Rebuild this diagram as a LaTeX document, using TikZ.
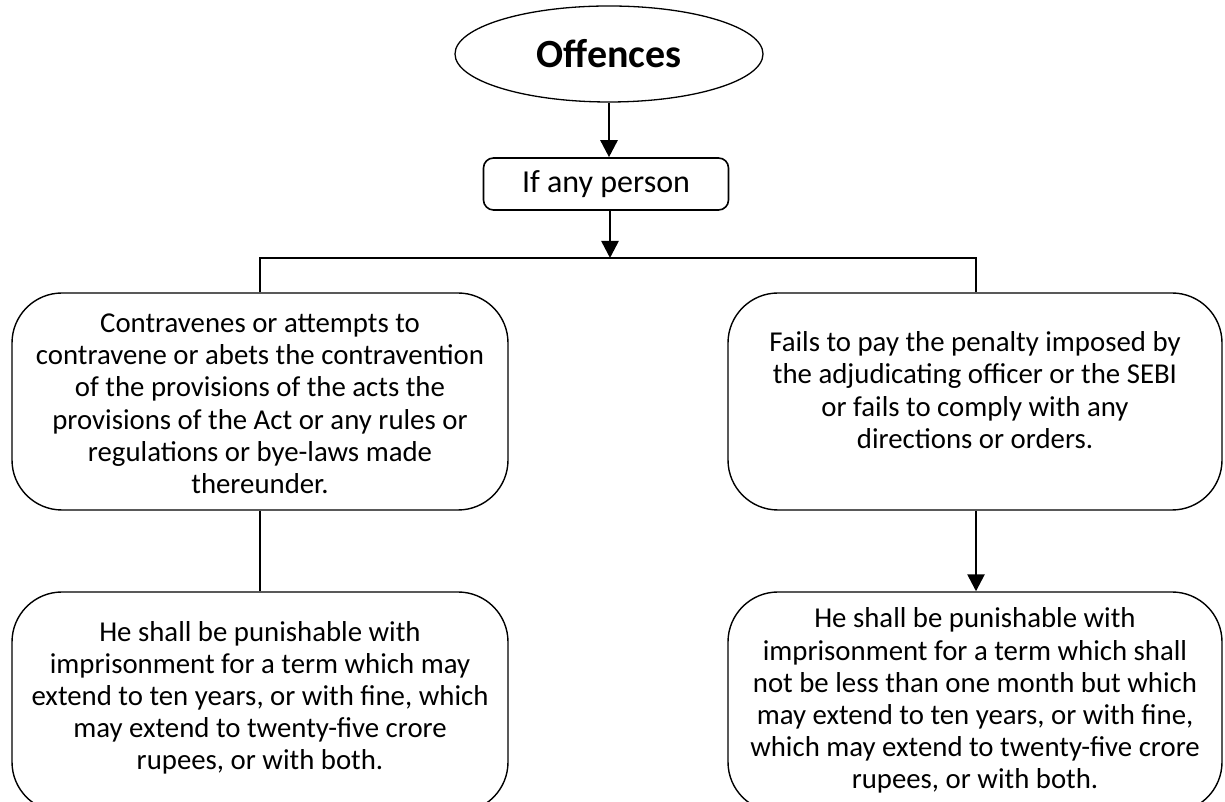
\documentclass[tikz,border=0pt]{standalone}
\usepackage{fontspec}
\setmainfont{Carlito}
\usetikzlibrary{shapes.geometric,arrows.meta}

\tikzset{
  conn/.style={line width=2.6pt},
  tip/.style={-{Triangle[width=17pt,length=17pt]}},
  bigbox/.style={draw, line width=1.4pt, rounded corners=50pt,
    minimum width=496pt, minimum height=217pt, inner sep=0pt,
    align=center, font=\fontsize{28.8}{32.2}\selectfont},
  lowbox/.style={bigbox, minimum height=220pt}
}

\begin{document}
\begin{tikzpicture}[x=1pt,y=1pt]
\useasboundingbox (0,0) rectangle (1225,802);
\clip (0,0) rectangle (1225,802);

% heading and first question
\node[ellipse, draw, line width=1.3pt, minimum width=308pt, minimum height=96pt,
      inner sep=0pt, font=\bfseries\fontsize{40}{44}\selectfont] (off) at (609,748) {Offences};
\node[draw, line width=1.6pt, rounded corners=10pt, minimum width=245pt,
      minimum height=52pt, inner sep=0pt, font=\fontsize{32}{36}\selectfont]
      (ifp) at (606,618) {If any person};

% branching points
\coordinate (j)  at (610,544);
\coordinate (jl) at (260,544);
\coordinate (jr) at (976,544);

% the two kinds of offence
\node[bigbox] (lt) at (260,400.5)
  {\raisebox{-5pt}[\height][\depth]{\begin{tabular}{@{}c@{}}
   Contravenes or attempts to\\
   contravene or abets the contravention\\
   of the provisions of the acts the\\
   provisions of the Act or any rules or\\
   regulations or bye-laws made\\
   thereunder.\end{tabular}}};
\node[bigbox, minimum width=494pt] (rt) at (975,400.5)
  {\raisebox{8pt}[\height][\depth]{\begin{tabular}{@{}c@{}}
   Fails to pay the penalty imposed by\\
   the adjudicating officer or the SEBI\\
   or fails to comply with any\\
   directions or orders.\end{tabular}}};

% the punishments
\node[lowbox] (lb) at (260,100)
  {\raisebox{3pt}[\height][\depth]{\begin{tabular}{@{}c@{}}
   He shall be punishable with\\
   imprisonment for a term which may\\
   extend to ten years, or with fine, which\\
   may extend to twenty-five crore\\
   rupees, or with both.\end{tabular}}};
\node[lowbox, minimum width=494pt] (rb) at (975,100)
  {\raisebox{0pt}[\height][\depth]{\begin{tabular}{@{}c@{}}
   He shall be punishable with\\
   imprisonment for a term which shall\\
   not be less than one month but which\\
   may extend to ten years, or with fine,\\
   which may extend to twenty-five crore\\
   rupees, or with both.\end{tabular}}};

% connectors
\draw[conn, tip] (off.south) -- (off.south |- ifp.north);
\draw[conn, tip] (ifp.south -| j) -- (j);
\draw[conn] (jl |- lt.north) -- (jl) -- (jr) -- (jr |- rt.north);
\draw[conn] (lt.south) -- (lt.south |- lb.north);
\draw[conn, tip] (rt.south -| jr) -- (jr |- rb.north);
\end{tikzpicture}
\end{document}
